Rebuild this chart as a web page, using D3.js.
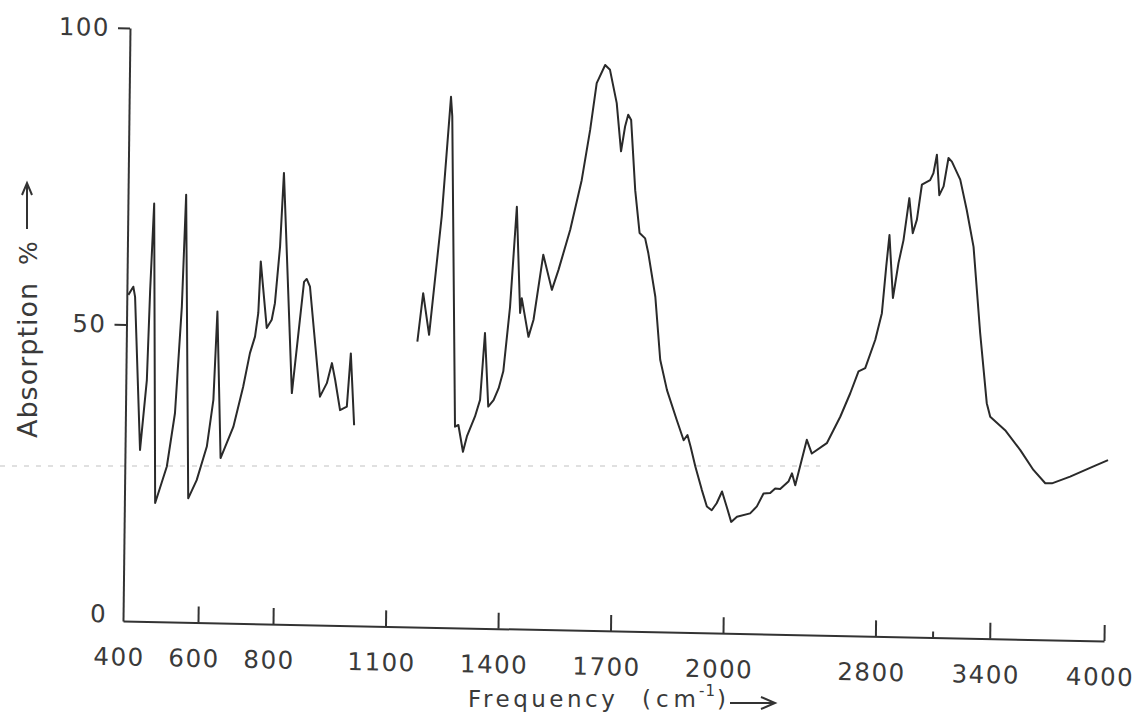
<!DOCTYPE html>
<html>
<head>
<meta charset="utf-8">
<script src="https://cdn.jsdelivr.net/npm/d3@7"></script>
<style>
	body { margin:0; background:#fff; }
	svg { display:block; }
	text { font-family: "DejaVu Sans", sans-serif; fill:#3a3a3a; }
</style>
</head>
<body>
<svg id="chart" width="1137" height="715"></svg>
<script>

// spectrum, wavenumber (cm-1) and absorption (%)
// part below the gap (400 - 1010)
let lowFreq = [404,417,422,440,456,462,470,482,512,532,547,555,570,592,618,634,642,655,688,713,730,743,751,756,774,787,795,807,815,843,872,879,888,918,936,949,958,972,990,999,1010]
let lowAbs  = [55.0,56.4,54.7,28.9,40.7,55.9,70.5,20.0,26.2,35.2,53.2,72.1,20.9,24.0,29.7,37.6,52.5,27.8,33.1,39.9,45.6,48.4,52.4,61.1,49.9,51.3,54.1,63.7,76.1,39.0,57.8,58.3,57.0,38.5,40.8,44.2,41.4,36.3,36.9,45.9,33.8]

// part above the gap (1176 - 4000)
let highFreq = [1176,1190,1207,1237,1258,1262,1279,1288,1301,1311,1332,1345,1356,1367,1381,1394,1406,1422,1437,1449,1453,1472,1485,1509,1533,1550,1580,1609,1630,1646,1668,1681,1700,1713,1723,1731,1739,1752,1765,1780,1789,1809,1824,1843,1870,1889,1899,1908,1921,1939,1953,1966,1979,1993,
	2012,2036,2066,2135,2170,2204,2239,2265,2291,2334,2352,2370,2428,2455,2533,2602,2653,2695,2730,2781,2814,2834,2849,2871,2898,2923,2951,2971,2992,3016,3059,3076,3093,3108,3130,3154,3172,3217,3253,3291,3331,3370,3389,3468,3549,3619,3682,3717,3812,3934,4010]
let highAbs  = [48.1,56.3,49.3,69.3,89.5,86.2,33.9,34.2,29.7,32.3,35.7,38.5,49.8,37.4,38.5,40.5,43.4,54.3,71.2,53.3,55.8,49.3,52.2,63.2,57.3,60.7,67.5,75.9,84.4,92.3,95.4,94.6,89.0,80.9,85.1,87.1,86.2,74.4,67.2,66.3,63.8,56.5,45.9,40.8,35.8,32.4,33.3,31.3,28.0,24.1,21.3,20.7,21.9,23.9,
	21.3,18.8,19.7,20.3,21.5,23.7,23.8,24.6,24.5,25.8,27.2,25.2,32.9,30.6,32.4,36.9,40.9,44.6,45.2,50.0,54.5,62.4,67.7,57.1,63.0,66.9,74.0,68.1,70.4,76.3,77.1,78.3,81.4,74.6,76.1,80.9,80.3,77.3,72.2,66.0,51.5,39.7,37.4,35.2,31.9,28.6,26.4,26.4,27.6,29.4,30.5]

// axis: scale changes at 2000 cm-1
let freqBreaks = [400, 2000, 4000]
let xTicks = [400,600,800,1100,1400,1700,2000,2800,3400,4000]
let xMinorTicks = [3100]
let yTicks = [0,50,100]

const inkColor = "#333"
const plotW = 981, plotH = 593

let svg = d3.select("#chart")

// faint line left on the paper by the scanner
svg.append("line")
	.attr("x1",0).attr("x2",820)
	.attr("y1",466).attr("y2",466)
	.attr("stroke","#d6d6d6")
	.attr("stroke-width",1.5)
	.attr("stroke-dasharray","5 7")

// the scan is a little skewed, so the whole plot sits in a slanted frame
let plot = svg.append("g")
	.attr("transform","matrix(1,0.0204,-0.0118,1,123,621)")

let x = d3.scaleLinear().domain(freqBreaks).range([0, 600, plotW])
let y = d3.scaleLinear().domain([0,100]).range([0,-plotH])

let xAxis = plot.append("g")
	.call(d3.axisBottom(x)
		.tickValues(xTicks)
		.tickFormat(d3.format("d"))
		.tickSizeInner(-16)
		.tickSizeOuter(0)
		.tickPadding(27))
xAxis.selectAll("text")
	.attr("dx",-4)
xAxis.selectAll(".tick").filter(d => d === 400).select("line").remove()

plot.append("g")
	.call(d3.axisBottom(x)
		.tickValues(xMinorTicks)
		.tickFormat("")
		.tickSizeInner(-6)
		.tickSizeOuter(0))
	.select(".domain").remove()

let yAxis = plot.append("g")
	.call(d3.axisLeft(y)
		.tickValues(yTicks)
		.tickSizeInner(12)
		.tickSizeOuter(0)
		.tickPadding(8))
yAxis.selectAll(".tick").filter(d => d === 0).select("line").remove()
yAxis.selectAll(".tick").filter(d => d === 0).select("text").attr("dy","0.05em").attr("dx",4)

plot.selectAll(".domain, .tick line")
	.attr("stroke",inkColor)
	.attr("stroke-width",2)
plot.selectAll(".tick text")
	.attr("fill","#3a3a3a")
	.style("font-family","'DejaVu Sans', sans-serif")
	.style("font-size","24.5px")
	.style("letter-spacing","1.5px")

// spectrum trace
let trace = d3.line()
	.x(d => x(d[0]))
	.y(d => y(d[1]))

let segments = [d3.zip(lowFreq,lowAbs), d3.zip(highFreq,highAbs)]
plot.selectAll("path.trace")
	.data(segments)
	.join("path")
	.attr("class","trace")
	.attr("d",trace)
	.attr("fill","none")
	.attr("stroke","#2a2a2a")
	.attr("stroke-width",2)
	.attr("stroke-linejoin","round")

// y title
svg.append("text")
	.attr("transform","translate(37,438) rotate(-90)")
	.style("font-size","27px")
	.style("letter-spacing","1px")
	.text("Absorption")
svg.append("text")
	.attr("transform","translate(37,265) rotate(-90)")
	.style("font-size","25px")
	.text("%")
svg.append("path")
	.attr("d","M27,229V184M22,195L27,183L32,195")
	.attr("fill","none")
	.attr("stroke",inkColor)
	.attr("stroke-width",2)

// x title
let xTitle = svg.append("text")
	.attr("x",468)
	.attr("y",707)
	.style("font-size","23px")
	.style("letter-spacing","3.5px")
xTitle.append("tspan").text("Frequency")
xTitle.append("tspan").attr("x",642).style("letter-spacing","5px").text("(cm")
xTitle.append("tspan").attr("x",699).attr("dy",-11).style("font-size","15px").style("letter-spacing","1px").text("-1")
xTitle.append("tspan").attr("x",717).attr("dy",11).text(")")

svg.append("path")
	.attr("d","M730,703H774M761,697L775,703L761,709")
	.attr("fill","none")
	.attr("stroke",inkColor)
	.attr("stroke-width",2)

</script>
</body>
</html>
